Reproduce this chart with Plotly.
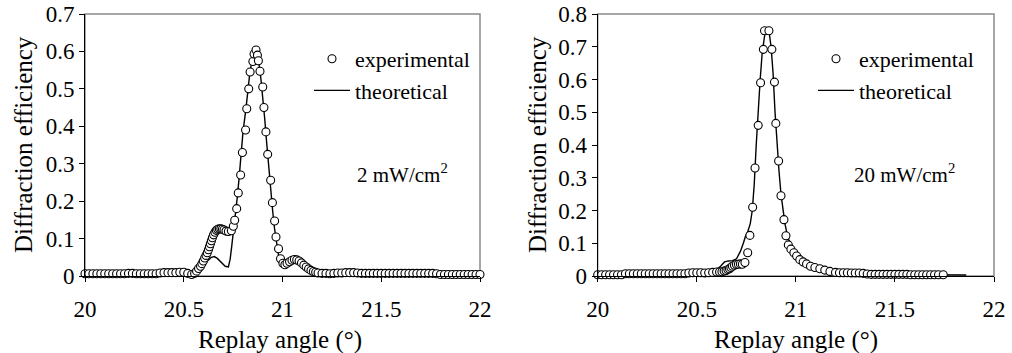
import plotly.graph_objects as go

# ---------------- data: 2 mW/cm2 panel ----------------
exp2_x = [20.00, 20.02, 20.04, 20.06, 20.08, 20.10, 20.12, 20.14, 20.16, 20.18,
          20.20, 20.22, 20.24, 20.26, 20.28, 20.30, 20.32, 20.34, 20.36, 20.38,
          20.40, 20.42, 20.44, 20.46, 20.48, 20.50, 20.52, 20.54, 20.555, 20.565,
          20.575, 20.585, 20.592, 20.599, 20.606, 20.613, 20.619, 20.625, 20.630, 20.635,
          20.640, 20.645, 20.651, 20.658, 20.665, 20.672, 20.680, 20.688, 20.696, 20.704,
          20.714, 20.726, 20.741, 20.751, 20.758, 20.768, 20.776, 20.788, 20.797, 20.813,
          20.819, 20.829, 20.836, 20.850, 20.856, 20.866, 20.873, 20.878, 20.886, 20.900,
          20.906, 20.916, 20.925, 20.940, 20.949, 20.960, 20.967, 20.980, 20.990, 21.002,
          21.012, 21.023, 21.036, 21.048, 21.060, 21.072, 21.084, 21.096, 21.108, 21.120,
          21.132, 21.144, 21.156, 21.168, 21.180, 21.20, 21.22, 21.24, 21.26, 21.28,
          21.30, 21.32, 21.34, 21.36, 21.38, 21.40, 21.42, 21.44, 21.46, 21.48,
          21.50, 21.52, 21.54, 21.56, 21.58, 21.60, 21.62, 21.64, 21.66, 21.68,
          21.70, 21.72, 21.74, 21.76, 21.78, 21.80, 21.82, 21.84, 21.86, 21.88,
          21.90, 21.92, 21.94, 21.96, 21.98, 22.00]
exp2_y = [0.006, 0.006, 0.006, 0.006, 0.006, 0.006, 0.006, 0.006, 0.006, 0.006,
          0.006, 0.007, 0.007, 0.006, 0.006, 0.006, 0.006, 0.006, 0.006, 0.008,
          0.009, 0.009, 0.009, 0.009, 0.010, 0.010, 0.007, 0.004, 0.007, 0.013,
          0.020, 0.026, 0.033, 0.040, 0.048, 0.055, 0.062, 0.070, 0.078, 0.086,
          0.094, 0.102, 0.110, 0.117, 0.122, 0.125, 0.126, 0.126, 0.125, 0.123,
          0.120, 0.119, 0.121, 0.133, 0.149, 0.180, 0.222, 0.270, 0.330, 0.390,
          0.447, 0.500, 0.545, 0.573, 0.593, 0.604, 0.590, 0.575, 0.547, 0.505,
          0.450, 0.385, 0.325, 0.256, 0.196, 0.147, 0.104, 0.073, 0.046, 0.034,
          0.030, 0.034, 0.038, 0.042, 0.044, 0.043, 0.040, 0.035, 0.029, 0.024,
          0.019, 0.015, 0.012, 0.010, 0.008, 0.007, 0.007, 0.006, 0.007, 0.008,
          0.008, 0.009, 0.009, 0.009, 0.008, 0.007, 0.007, 0.007, 0.007, 0.007,
          0.007, 0.007, 0.007, 0.007, 0.007, 0.007, 0.007, 0.007, 0.007, 0.007,
          0.007, 0.007, 0.007, 0.007, 0.006, 0.004, 0.004, 0.004, 0.004, 0.004,
          0.004, 0.004, 0.004, 0.004, 0.004, 0.004]

theo2_x = [20.00, 20.40, 20.50, 20.55, 20.58, 20.60, 20.62, 20.64, 20.655, 20.67,
           20.69, 20.71, 20.726, 20.735, 20.743, 20.751, 20.762, 20.771, 20.78, 20.79,
           20.80, 20.815, 20.825, 20.835, 20.848, 20.86, 20.87, 20.88, 20.89, 20.90,
           20.91, 20.92, 20.93, 20.94, 20.95, 20.96, 20.97, 20.98, 20.99, 21.00,
           21.02, 21.04, 21.06, 21.08, 21.10, 21.12, 21.14, 21.16, 21.18, 21.22,
           21.30, 21.50, 22.00]
theo2_y = [0.002, 0.003, 0.004, 0.006, 0.012, 0.025, 0.040, 0.050, 0.052, 0.047,
           0.035, 0.026, 0.024, 0.045, 0.080, 0.114, 0.170, 0.210, 0.260, 0.330,
           0.385, 0.447, 0.500, 0.545, 0.580, 0.603, 0.592, 0.570, 0.530, 0.480,
           0.420, 0.355, 0.290, 0.235, 0.175, 0.125, 0.085, 0.055, 0.038, 0.032,
           0.034, 0.040, 0.043, 0.040, 0.032, 0.022, 0.014, 0.009, 0.006, 0.005,
           0.004, 0.003, 0.002]

# ---------------- data: 20 mW/cm2 panel ----------------
exp20_x = [20.00, 20.02, 20.04, 20.06, 20.08, 20.10, 20.12, 20.14, 20.16, 20.18,
           20.20, 20.22, 20.24, 20.26, 20.28, 20.30, 20.32, 20.34, 20.36, 20.38,
           20.40, 20.42, 20.44, 20.46, 20.48, 20.50, 20.52, 20.54, 20.56, 20.58,
           20.60, 20.615, 20.627, 20.638, 20.648, 20.657, 20.665, 20.672, 20.680, 20.690,
           20.700, 20.710, 20.720, 20.730, 20.743, 20.757, 20.768, 20.782, 20.794, 20.810,
           20.822, 20.836, 20.842, 20.864, 20.879, 20.892, 20.899, 20.913, 20.925, 20.940,
           20.950, 20.962, 20.975, 20.990, 21.004, 21.020, 21.037, 21.054, 21.074, 21.096,
           21.121, 21.146, 21.172, 21.200, 21.22, 21.24, 21.26, 21.28, 21.30, 21.32,
           21.34, 21.36, 21.38, 21.40, 21.42, 21.44, 21.46, 21.48, 21.50, 21.52,
           21.54, 21.56, 21.58, 21.60, 21.62, 21.64, 21.66, 21.68, 21.70, 21.72,
           21.744]
exp20_y = [0.004, 0.004, 0.004, 0.004, 0.004, 0.004, 0.004, 0.007, 0.007, 0.007,
           0.007, 0.007, 0.007, 0.007, 0.007, 0.007, 0.007, 0.007, 0.007, 0.007,
           0.007, 0.007, 0.007, 0.009, 0.010, 0.010, 0.010, 0.009, 0.010, 0.011,
           0.012, 0.012, 0.013, 0.015, 0.017, 0.020, 0.022, 0.026, 0.030, 0.033,
           0.035, 0.036, 0.037, 0.036, 0.041, 0.071, 0.124, 0.210, 0.330, 0.460,
           0.590, 0.692, 0.749, 0.749, 0.692, 0.592, 0.466, 0.351, 0.245, 0.172,
           0.123, 0.095, 0.082, 0.071, 0.061, 0.050, 0.043, 0.037, 0.030, 0.026,
           0.022, 0.018, 0.014, 0.011, 0.010, 0.010, 0.010, 0.009, 0.009, 0.009,
           0.008, 0.006, 0.005, 0.005, 0.005, 0.005, 0.005, 0.005, 0.005, 0.005,
           0.005, 0.005, 0.004, 0.004, 0.004, 0.004, 0.004, 0.004, 0.004, 0.004,
           0.004]

theo20_x = [20.00, 20.40, 20.50, 20.55, 20.60, 20.62, 20.64, 20.66, 20.68, 20.70,
            20.72, 20.735, 20.745, 20.757, 20.77, 20.78, 20.79, 20.80, 20.81, 20.82,
            20.83, 20.845, 20.855, 20.865, 20.875, 20.885, 20.895, 20.905, 20.915, 20.925,
            20.935, 20.945, 20.955, 20.965, 20.98, 21.00, 21.02, 21.05, 21.08, 21.11,
            21.15, 21.20, 21.30, 21.50, 21.86]
theo20_y = [0.002, 0.004, 0.008, 0.013, 0.020, 0.030, 0.043, 0.046, 0.047, 0.052,
            0.075, 0.100, 0.120, 0.135, 0.160, 0.200, 0.280, 0.400, 0.520, 0.600,
            0.680, 0.745, 0.752, 0.745, 0.700, 0.620, 0.500, 0.400, 0.320, 0.250,
            0.200, 0.160, 0.130, 0.110, 0.090, 0.070, 0.057, 0.042, 0.031, 0.023,
            0.016, 0.010, 0.006, 0.004, 0.003]

x_ticks = [20, 20.5, 21, 21.5, 22]
y_ticks_left = [0, 0.1, 0.2, 0.3, 0.4, 0.5, 0.6, 0.7]
y_ticks_right = [0, 0.1, 0.2, 0.3, 0.4, 0.5, 0.6, 0.7, 0.8]

FONT = "Liberation Serif"
W, H = 1012, 353

marker_style = dict(symbol="circle", size=8, color="white",
                    line=dict(color="black", width=1.1))
line_style = dict(color="black", width=1.4)

fig = go.Figure()
fig.add_trace(go.Scatter(x=theo2_x, y=theo2_y, mode="lines", name="theoretical",
                         line=line_style, cliponaxis=False,
                         xaxis="x", yaxis="y", legend="legend"))
fig.add_trace(go.Scatter(x=exp2_x, y=exp2_y, mode="markers", name="experimental",
                         marker=marker_style, cliponaxis=False,
                         xaxis="x", yaxis="y", legend="legend"))
fig.add_trace(go.Scatter(x=theo20_x, y=theo20_y, mode="lines", name="theoretical",
                         line=line_style, cliponaxis=False,
                         xaxis="x2", yaxis="y2", legend="legend2"))
fig.add_trace(go.Scatter(x=exp20_x, y=exp20_y, mode="markers", name="experimental",
                         marker=marker_style, cliponaxis=False,
                         xaxis="x2", yaxis="y2", legend="legend2"))

ydom = [1 - 276 / H, 1 - 14 / H]
xdom1 = [85 / W, 480 / W]
xdom2 = [597.7 / W, 994 / W]

tickfont = dict(family=FONT, size=23, color="black")

def xaxis(dom, anchor):
    return dict(domain=dom, anchor=anchor, range=[20, 22], tickvals=x_ticks,
                ticktext=[f"{v:g}" for v in x_ticks], automargin=False,
                showline=True, linecolor="black", linewidth=1,
                ticks="outside", ticklen=5, tickcolor="black",
                ticklabelstandoff=7,
                showgrid=False, zeroline=False, tickfont=tickfont)

def yaxis(dom, anchor, top, ticks):
    return dict(domain=dom, anchor=anchor, range=[0, top], tickvals=ticks,
                ticktext=[f"{v:g}" for v in ticks], automargin=False,
                showline=True, linecolor="black", linewidth=1,
                ticks="outside", ticklen=5, tickcolor="black",
                showgrid=False, zeroline=False, tickfont=tickfont)

legend_font = dict(family=FONT, size=22, color="black")

fig.update_layout(
    width=W, height=H, margin=dict(l=0, r=0, t=0, b=0, autoexpand=False),
    paper_bgcolor="white", plot_bgcolor="white",
    font=dict(family=FONT, color="black"),
    xaxis=xaxis(xdom1, "y"), yaxis=yaxis(ydom, "x", 0.7, y_ticks_left),
    xaxis2=xaxis(xdom2, "y2"), yaxis2=yaxis(ydom, "x2", 0.8, y_ticks_right),
    legend=dict(x=309 / W, y=1 - 38 / H, xanchor="left", yanchor="top",
                bgcolor="rgba(0,0,0,0)", font=legend_font, tracegroupgap=0,
                itemwidth=36, traceorder="reversed"),
    legend2=dict(x=813 / W, y=1 - 38 / H, xanchor="left", yanchor="top",
                 bgcolor="rgba(0,0,0,0)", font=legend_font, tracegroupgap=0,
                 itemwidth=36, traceorder="reversed"),
    shapes=[
        dict(type="rect", xref="x domain", yref="y domain", x0=0, x1=1, y0=0, y1=1,
             line=dict(color="#8a8a8a", width=1.5), layer="below"),
        dict(type="rect", xref="x2 domain", yref="y2 domain", x0=0, x1=1, y0=0, y1=1,
             line=dict(color="#8a8a8a", width=1.5), layer="below"),
    ],
    annotations=[
        dict(text="2 mW/cm<sup>2</sup>", x=355 / W, y=1 - 173 / H, xref="paper", yref="paper",
             xanchor="left", yanchor="middle", showarrow=False,
             font=dict(family=FONT, size=21, color="black")),
        dict(text="20 mW/cm<sup>2</sup>", x=852 / W, y=1 - 173 / H, xref="paper", yref="paper",
             xanchor="left", yanchor="middle", showarrow=False,
             font=dict(family=FONT, size=21, color="black")),
        dict(text="Replay angle (°)", x=280 / W, y=1 - 340 / H, xref="paper", yref="paper",
             xanchor="center", yanchor="middle", showarrow=False,
             font=dict(family=FONT, size=25, color="black")),
        dict(text="Replay angle (°)", x=796 / W, y=1 - 340 / H, xref="paper", yref="paper",
             xanchor="center", yanchor="middle", showarrow=False,
             font=dict(family=FONT, size=25, color="black")),
        dict(text="Diffraction efficiency", x=23 / W, y=1 - 145 / H, xref="paper", yref="paper",
             xanchor="center", yanchor="middle", showarrow=False, textangle=-90,
             font=dict(family=FONT, size=25, color="black")),
        dict(text="Diffraction efficiency", x=537 / W, y=1 - 145 / H, xref="paper", yref="paper",
             xanchor="center", yanchor="middle", showarrow=False, textangle=-90,
             font=dict(family=FONT, size=25, color="black")),
    ],
)

fig.write_html("out.html")
